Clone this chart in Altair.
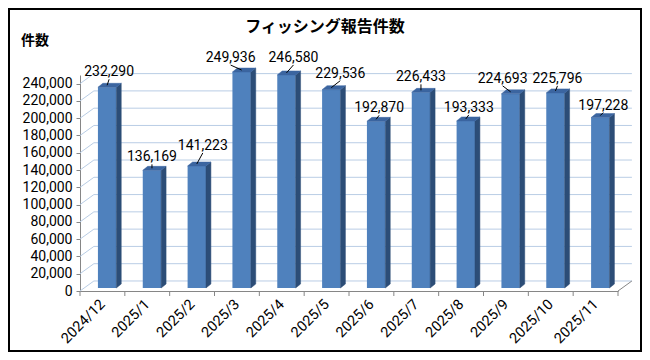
import altair as alt
import pandas as pd

# ---------------- data ----------------
months = ["2024/12", "2025/1", "2025/2", "2025/3", "2025/4", "2025/5",
          "2025/6", "2025/7", "2025/8", "2025/9", "2025/10", "2025/11"]
counts = [232290, 136169, 141223, 249936, 246580, 229536,
          192870, 226433, 193333, 224693, 225796, 197228]
y_ticks = list(range(0, 240001, 20000))
title_text = "フィッシング報告件数"
y_title = "件数"

# ---------------- styling ----------------
label_nudge_x = [2, 0, 6, -11, 7, 9, 3, 0, 3, -8, 2, 3]      # px, manual label placement
label_nudge_y = [-1, 1, -6, 0, -3, -2, 1, -1, 1, -1, 0, 2]   # px

W, H = 538, 216
Y_MAX = 250000
N = len(months)
FRONT_L, FRONT_R, SIDE_R = 0.40, 0.81, 0.92
BAR_LIFT = 3500
BAR_DEPTH_Y = 4600
WALL_DX = 0.31
WALL_DY = 11600

COL_FRONT = "#4F81BD"
COL_SIDE = "#2C4D77"
COL_TOP = "#3B65A0"
GRID = "#B9CDE5"
AXIS = "#868686"
FONT = "Roboto"
JFONT = "Noto Sans CJK JP"

px_x = N / W          # data units per pixel (x)
px_y = Y_MAX / H      # data units per pixel (y)

# ---------------- tables ----------------
bars = pd.DataFrame({"i": range(N), "month": months, "v": counts,
                     "ndx": label_nudge_x, "ndy": label_nudge_y})
bars["x0"] = bars.i + FRONT_L
bars["x1"] = bars.i + FRONT_R
bars["xc"] = bars.i + (FRONT_L + FRONT_R) / 2
bars["y0"] = BAR_LIFT
bars["y1"] = bars.v + BAR_LIFT
bars["label"] = bars.v.map(lambda n: f"{n:,}")
bars["lx"] = bars.xc + bars.ndx * px_x
bars["ly"] = bars.y1 + (14 - bars.ndy) * px_y
bars["lead_y"] = bars.ly - 7 * px_y
bars["lead_y2"] = bars.y1 + 2 * px_y

side_rows, top_rows = [], []
dxs = SIDE_R - FRONT_R
for i, v in enumerate(counts):
    t = v + BAR_LIFT
    side_rows += [
        {"bar": f"b{i}", "px": i + FRONT_R, "ylo": BAR_LIFT, "yhi": t},
        {"bar": f"b{i}", "px": i + SIDE_R, "ylo": BAR_LIFT + BAR_DEPTH_Y, "yhi": t + BAR_DEPTH_Y},
    ]
    top_rows += [
        {"bar": f"b{i}", "px": i + FRONT_L, "ylo": t, "yhi": t},
        {"bar": f"b{i}", "px": i + FRONT_L + dxs, "ylo": t, "yhi": t + BAR_DEPTH_Y},
        {"bar": f"b{i}", "px": i + FRONT_R, "ylo": t, "yhi": t + BAR_DEPTH_Y},
        {"bar": f"b{i}", "px": i + SIDE_R, "ylo": t + BAR_DEPTH_Y, "yhi": t + BAR_DEPTH_Y},
    ]
side = pd.DataFrame(side_rows)
top = pd.DataFrame(top_rows)

grid = pd.DataFrame({"v": y_ticks})
grid["gx"] = WALL_DX
grid["gx2"] = N + WALL_DX
grid["gy"] = grid.v + WALL_DY
grid["dx0"] = 0.0

floor_edge = pd.DataFrame({"fx": [N], "fx2": [N + WALL_DX], "fy": [0], "fy2": [WALL_DY]})
bounds = pd.DataFrame({"b": list(range(N + 1))})
one = pd.DataFrame({"a": [0]})

# ---------------- scales / axes ----------------
XS = alt.Scale(domain=[0, N], nice=False, zero=False)
YS = alt.Scale(domain=[0, Y_MAX], nice=False)
label_expr = "[" + ",".join(f"'{m}'" for m in months) + "][floor(datum.value)]"
XAX = alt.Axis(values=[i + 0.5 for i in range(N)], labelExpr=label_expr,
               labelAngle=-45, labelAlign="right", labelBaseline="middle",
               labelOverlap=False, labelBound=False,
               ticks=False, grid=False, domainColor=AXIS, labelFont=FONT,
               labelFontSize=14.5, labelColor="black", labelPadding=11, title=None)
YAX = alt.Axis(values=y_ticks, labelExpr="format(datum.value, ',')",
               labelOverlap=False, grid=False, domainColor=AXIS,
               tickColor=AXIS, tickSize=4, labelFont=FONT, labelFontSize=14,
               labelColor="black", labelPadding=4, title=None)


def X(f):
    return alt.X(f, scale=XS, axis=XAX)


def Y(f):
    return alt.Y(f, scale=YS, axis=YAX, stack=None)


back_grid = alt.Chart(grid).mark_rule(color=GRID, strokeWidth=1).encode(
    x=X("gx:Q"), x2="gx2:Q", y=Y("gy:Q"))
left_wall = alt.Chart(grid).mark_rule(color=GRID, strokeWidth=1).encode(
    x=X("dx0:Q"), x2="gx:Q", y=Y("v:Q"), y2="gy:Q")
floor_r = alt.Chart(floor_edge).mark_rule(color=AXIS, strokeWidth=1).encode(
    x=X("fx:Q"), x2="fx2:Q", y=Y("fy:Q"), y2="fy2:Q")

front = alt.Chart(bars).mark_rect(color=COL_FRONT).encode(
    x=X("x0:Q"), x2="x1:Q", y=Y("y0:Q"), y2="y1:Q")
side_face = alt.Chart(side).mark_area(fill=COL_SIDE, stroke=COL_SIDE, strokeWidth=0.5,
                                      opacity=1, orient="vertical").encode(
    x=X("px:Q"), y=Y("ylo:Q"), y2="yhi:Q", detail="bar:N")
top_face = alt.Chart(top).mark_area(fill=COL_TOP, stroke=COL_TOP, strokeWidth=0.5,
                                    opacity=1, orient="vertical").encode(
    x=X("px:Q"), y=Y("ylo:Q"), y2="yhi:Q", detail="bar:N")

leaders = alt.Chart(bars).mark_rule(color="black", strokeWidth=1).encode(
    x=X("lx:Q"), x2="xc:Q", y=Y("lead_y:Q"), y2="lead_y2:Q")
labels = alt.Chart(bars).mark_text(font=FONT, fontSize=14, baseline="middle", color="black").encode(
    x=X("lx:Q"), y=Y("ly:Q"), text="label:N")

xticks = alt.Chart(bounds).mark_rule(color=AXIS, strokeWidth=1).encode(
    x=X("b:Q"), y=alt.value(H), y2=alt.value(H + 5))

title = alt.Chart(one).mark_text(font=JFONT, fontSize=16, fontWeight="bold", color="black",
                                 baseline="middle", align="center").encode(
    x=alt.value(325 - 80), y=alt.value(27 - 75), text=alt.value(title_text))
ytitle = alt.Chart(one).mark_text(font=JFONT, fontSize=14, fontWeight="bold", color="black",
                                  baseline="middle", align="left").encode(
    x=alt.value(21 - 80), y=alt.value(41 - 75), text=alt.value(y_title))
frame = alt.Chart(one).mark_rect(fill=None, stroke="black", strokeWidth=2).encode(
    x=alt.value(-71), x2=alt.value(W + 23), y=alt.value(-66), y2=alt.value(H + 60))

chart = alt.layer(
    back_grid, left_wall, floor_r, front, side_face, top_face,
    leaders, labels, xticks, title, ytitle, frame
).properties(
    width=W, height=H,
    padding={"left": 72, "top": 67, "right": 24, "bottom": 61},
    autosize=alt.AutoSizeParams(type="none"),
    background="white",
).configure_view(stroke=None)

chart.save("out.html", embed_options={"renderer": "svg", "actions": False})
